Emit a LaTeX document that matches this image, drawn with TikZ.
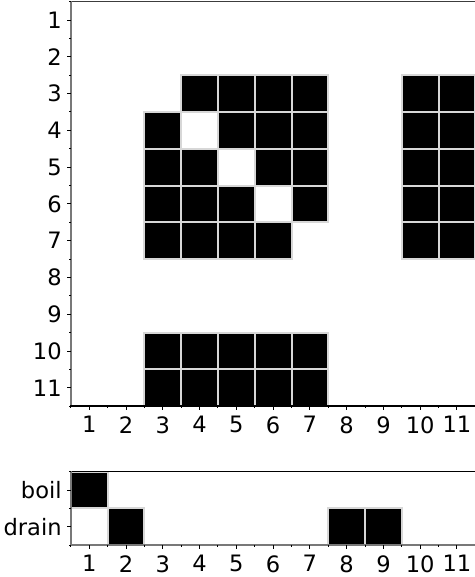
\documentclass[tikz,border=0pt]{standalone}
\usepackage{fontspec}
\setmainfont{DejaVu Sans}
\usetikzlibrary{positioning}
\definecolor{spinegray}{RGB}{120, 120, 120}
\definecolor{spinedark}{RGB}{60, 60, 60}
\definecolor{edgegray}{RGB}{215, 215, 215}

\begin{document}
\begin{tikzpicture}[
   x=18.4pt, y=-18.4pt,
   cell/.style={rectangle, draw=edgegray, fill=black, line width=1.0,
                inner sep=0, minimum size=18.4pt},
   ticklab/.style={font=\fontsize{11.3}{13}\selectfont, inner sep=0},
   spine/.style={line width=0.8, line cap=rect},
   major/.style={line width=0.5, color=black},
   minor/.style={line width=0.5, color=black}
  ]

  % Tick lengths and lower panel
  \pgfmathsetmacro{\tmaj}{0.11}
  \pgfmathsetmacro{\tmin}{0.055}
  \pgfmathsetmacro{\lt}{13.28}

  \useasboundingbox (-1.428, 0.454) rectangle (11.463, 16.146);

  % upper panel: cells
  \foreach \r/\cols in {3/{4,5,6,7,10,11}, 4/{3,5,6,7,10,11},
                        5/{3,4,6,7,10,11}, 6/{3,4,5,7,10,11},
                        7/{3,4,5,6,10,11}, 10/{3,4,5,6,7}, 11/{3,4,5,6,7}} {
    \foreach \c in \cols {
      \node (T-\r-\c) at (\c, \r) [cell] {};
    }
  }

  % upper panel: spines
  \draw[spine, spinedark] (0.5, 0.5) -- (11.6, 0.5);
  \draw[spine, spinegray] (0.5, 0.5) -- (0.5, 11.5);
  \draw[spine, black] (0.5, 11.5) -- (11.6, 11.5);

  % upper panel: ticks and labels
  \foreach \i in {1, ..., 11} {
    \draw[major] (0.5, \i) -- ++(-\tmaj, 0);
    \draw[major] (\i, 11.5) -- ++(0, \tmaj);
    \node (YL-\i) at (0.26, \i) [ticklab, anchor=east] {\i};
    \node (XL-\i) at (\i, 11.77) [ticklab, anchor=north] {\i};
  }
  \foreach \h in {0.5, 1.5, ..., 11.5} {
    \draw[minor] (0.5, \h) -- ++(-\tmin, 0);
    \draw[minor] (\h, 11.5) -- ++(0, \tmin);
  }

  % lower panel: cells
  \foreach \r/\cols in {0/{1}, 1/{2,8,9}} {
    \foreach \c in \cols {
      \node (L-\r-\c) at (\c, \lt + 0.5 + \r) [cell] {};
    }
  }

  % lower panel: spines
  \draw[spine, black] (0.5, \lt) -- (11.6, \lt);
  \draw[spine, spinegray] (0.5, \lt) -- (0.5, \lt + 2);
  \draw[spine, spinegray] (0.5, \lt + 2) -- (11.6, \lt + 2);

  % lower panel: ticks and labels
  \foreach \i in {1, ..., 11} {
    \draw[major] (\i, \lt + 2) -- ++(0, \tmaj);
    \node (BL-\i) at (\i, \lt + 2.27) [ticklab, anchor=north] {\i};
  }
  \foreach \h in {0.5, 1.5, ..., 11.5} {
    \draw[minor] (\h, \lt + 2) -- ++(0, \tmin);
  }
  \foreach \h in {0, 1, 2} {
    \draw[minor] (0.5, \lt + \h) -- ++(-\tmin, 0);
  }
  \foreach \n/\k in {boil/0, drain/1} {
    \draw[major] (0.5, \lt + 0.5 + \k) -- ++(-\tmaj, 0);
    \node (\n) at (0.26, \lt + 0.5 + \k) [ticklab, anchor=east] {\n};
  }

\end{tikzpicture}
\end{document}
